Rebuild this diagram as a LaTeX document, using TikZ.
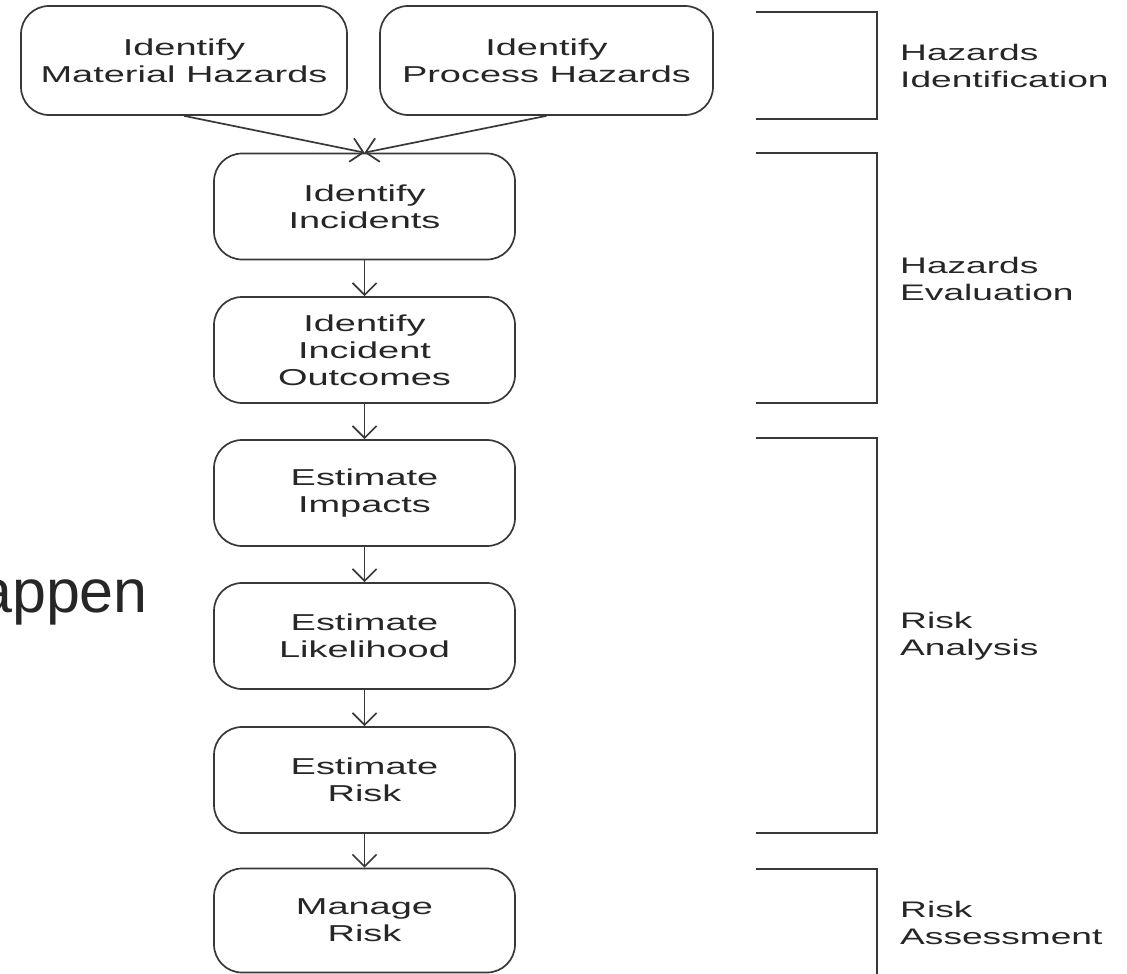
\documentclass[tikz,border=0pt]{standalone}
\usepackage{fontspec}
\setmainfont{Liberation Sans}
\newfontfamily\boxfont[FakeStretch=1.65]{Liberation Sans}
\usetikzlibrary{arrows.meta}
\definecolor{ink}{HTML}{383838}
\definecolor{txt}{HTML}{262626}
\begin{document}
\begin{tikzpicture}[x=1pt,y=-1pt,
  stepbox/.style={draw=ink, line width=1.7pt, rounded corners=28pt, fill=white,
    minimum height=106pt, minimum width=301pt, inner sep=0pt, align=center,
    font=\boxfont\fontsize{23}{27}\selectfont, text=txt},
  lab/.style={anchor=west, inner sep=0pt, align=left,
    font=\boxfont\fontsize{22.5}{27}\selectfont, text=txt},
  arr/.style={draw=ink, line width=1.7pt, -{Straight Barb[length=12pt,width=24pt]}},
  brk/.style={draw=ink, line width=1.7pt}
]
\useasboundingbox (0,0) rectangle (1127,974);

% cut-off slide text
\node[font=\fontsize{61}{61}\selectfont, text=txt, anchor=base east, inner sep=0pt] (hap) at (148,612) {appen};

% top boxes
\node[stepbox, minimum width=326pt, minimum height=109pt] (mat) at (184,60.5) {Identify\\Material Hazards};
\node[stepbox, minimum width=333pt, minimum height=109pt] (proc) at (546.5,60.5) {Identify\\Process Hazards};

% main column
\node[stepbox] (inc)  at (364.5,206.5) {Identify\\Incidents};
\node[stepbox] (out)  at (364.5,350)   {Identify\\Incident\\Outcomes};
\node[stepbox] (imp)  at (364.5,493)   {Estimate\\Impacts};
\node[stepbox] (lik)  at (364.5,636)   {Estimate\\Likelihood};
\node[stepbox] (risk) at (364.5,780)   {Estimate\\Risk};
\node[stepbox, minimum height=104pt] (man) at (364.5,920.5) {Manage\\Risk};

% connectors
\draw[arr] (mat.south) -- (inc.north);
\draw[arr] (proc.south) -- (inc.north);
\draw[arr] (inc.south) -- (out.north);
\draw[arr] (out.south) -- (imp.north);
\draw[arr] (imp.south) -- (lik.north);
\draw[arr] (lik.south) -- (risk.north);
\draw[arr] (risk.south) -- (man.north);

% brackets
\draw[brk] (756,12) -- (877,12) -- (877,119) -- (756,119);
\draw[brk] (756,153) -- (877,153) -- (877,403) -- (756,403);
\draw[brk] (756,438) -- (877,438) -- (877,833) -- (756,833);
\draw[brk] (756,869) -- (877,869) -- (877,990);

% phase labels
\node[lab] (l1) at (900,66)  {Hazards\\Identification};
\node[lab] (l2) at (900,279) {Hazards\\Evaluation};
\node[lab] (l3) at (900,636) {Risk\\Analysis};
\node[lab] (l4) at (900,923) {Risk\\Assessment};
\end{tikzpicture}
\end{document}
